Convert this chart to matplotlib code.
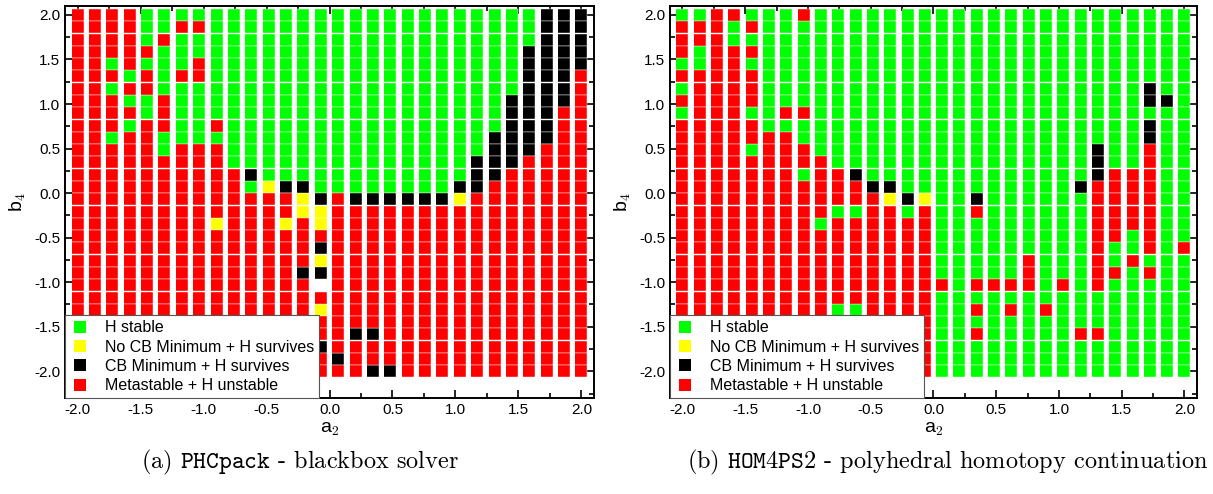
import numpy as np
import matplotlib
matplotlib.use("Agg")
import matplotlib.pyplot as plt
from matplotlib.lines import Line2D
from matplotlib.ticker import MultipleLocator

plt.rcParams['font.family'] = ['Liberation Sans', 'DejaVu Sans']
plt.rcParams['mathtext.fontset'] = 'cm'
plt.rcParams['axes.unicode_minus'] = False

# parameter scan grid (30 x 30)
a2_values = np.linspace(-2.0, 2.0, 30)
b4_values = np.linspace(2.0, -2.0, 30)   # rows listed from top to bottom

# G = H stable, Y = no CB minimum + H survives, K = CB minimum + H survives,
# R = metastable + H unstable, . = no result
phc_grid = [
    "RRRRGGGGGG" "GGGGGGGGG" "GGGGGGGGKKK",
    "RRRRGGRRGG" "GGGGGGGGG" "GGGGGGGGKKK",
    "RRRRGRGGGG" "GGGGGGGGG" "GGGGGGGGKKK",
    "RRRRRGGGGG" "GGGGGGGGG" "GGGGGGGKKKK",
    "RRGRGGGRGG" "GGGGGGGGG" "GGGGGGGKKKK",
    "RRRGRGRRGG" "GGGGGGGGG" "GGGGGGGKKKR",
    "RRGRRGGGGG" "GGGGGGGGG" "GGGGGGGKKKR",
    "RRRGGRGGGG" "GGGGGGGGG" "GGGGGGKKKKR",
    "RRRRGRGGGG" "GGGGGGGGG" "GGGGGGKKKRR",
    "RRRGRRGGRG" "GGGGGGGGG" "GGGGGGKKKRR",
    "RRGRRGGGGG" "GGGGGGGGG" "GGGGGKKKKRR",
    "RRRRRGRRRG" "GGGGGGGGG" "GGGGGKKKRRR",
    "RRRRRRRRRG" "GGGGGGGGG" "GGGGKKKRRRR",
    "RRRRRRRRRR" "KGGGGGGGG" "GGGGKKRRRRR",
    "RRRRRRRRRR" "GYKKGGGGG" "GGGKKRRRRRR",
    "RRRRRRRRRR" "RRRYKRKKK" "KKKYRRRRRRR",
    "RRRRRRRRRR" "RRRYYRRRR" "RRRRRRRRRRR",
    "RRRRRRRRYR" "RRYRYRRRR" "RRRRRRRRRRR",
    "RRRRRRRRRR" "RRRRRRRRR" "RRRRRRRRRRR",
    "RRRRRRRRRR" "RRRRKRRRR" "RRRRRRRRRRR",
    "RRRRRRRRRR" "RRRRYRRRR" "RRRRRRRRRRR",
    "RRRRRRRRRR" "RRRKKRRRR" "RRRRRRRRRRR",
    "RRRRRRRRRR" "RRRR.RRRR" "RRRRRRRRRRR",
    "RRRRRRRRRR" "RRRRRRRRR" "RRRRRRRRRRR",
    "RRRRRRRRRR" "RRRRYRRRR" "RRRRRRRRRRR",
    "RRRRRRRRRR" "RRRRRRRRR" "RRRRRRRRRRR",
    "RRRRRRRRRR" "RRRRRRKKR" "RRRRRRRRRRR",
    "RRRRRRRRRR" "RRRRKRRRR" "RRRRRRRRRRR",
    "RRRRRRRRRR" "RRRRRKRRR" "RRRRRRRRRRR",
    "RRRRRRRRRR" "RRRRRRRKK" "RRRRRRRRRRR",
]

hom_grid = [
    "GGRRGGGRGG" "GGGGGGGGG" "GGGGGGGGGGG",
    "RRRGRGGGGG" "GGGGGGGGG" "GGGGGGGGGGG",
    "RRRGGGGGGG" "GGGGGGGGG" "GGGGGGGGGGG",
    "RGRRRGGGGG" "GGGGGGGGG" "GGGGGGGGGGG",
    "GGRRGGGGGG" "GGGGGGGGG" "GGGGGGGGGGG",
    "RRRRRGGGGG" "GGGGGGGGG" "GGGGGGGGGGG",
    "GRRRRGGGGG" "GGGGGGGGG" "GGGGGGGGKGG",
    "RRRRRGGGGG" "GGGGGGGGG" "GGGGGGGGKKG",
    "GRRRGGRRGG" "GGGGGGGGG" "GGGGGGGGGGG",
    "RRRRRGGGGG" "GGGGGGGGG" "GGGGGGGGKGG",
    "RRRRRRRGGG" "GGGGGGGGG" "GGGGGGGGKGG",
    "RRRRGRRRGG" "GGGGGGGGG" "GGGGGKGGRGG",
    "RRRRRRRRRG" "GGGGGGGGG" "GGGGGKGGRGG",
    "RRRRRRRGRR" "KGGGGGGGG" "GGGGGKRRRGG",
    "RRRRRRRRRR" "RKKGGGGGG" "GGGGKRRRRGG",
    "RRRRRRRRRR" "RRYKYGGKG" "GGGGGRRRRGG",
    "RRRRRRRRRG" "GRRGRGGRG" "GGGGGRRRRGG",
    "RRRRRRRRGR" "RRRRRGGGG" "GGGGGRRRRGG",
    "RRRRRRRRRR" "RRRRRGGGG" "GGGGGRRGRGG",
    "RRRRRRRRRR" "RRRRRGGGG" "GGGGGRGGRGR",
    "RRRRRRRRRR" "RRRRRGGGG" "GRGGGRGRGGG",
    "RRRRRRRRRR" "RRRRRGGGG" "GRGGGRRGRGG",
    "RRRRRRRRRR" "RRRRRRGRR" "RRGRGRGGGGG",
    "RRRRRRRRRR" "RRRRRGGGG" "GGGGGGGGGGG",
    "RRRRRRRRRG" "GRRRRGGRG" "RGRGGGGGGGG",
    "RRRRRRRRRR" "RRRRRGGGG" "GGGGGGGGGGG",
    "RRRRRRRRRR" "RRRRRGGRG" "GGGGRRGGGGG",
    "RRRRRRRRRR" "RRRRRGGGG" "GGGGGGGGGGG",
    "RRRRRRRRRR" "RRRRRGGGG" "GGGGGGGGGGG",
    "RRRRRRRRRR" "RRRRRGGGG" "GGGGGGGGGGG",
]

state_codes = ["G", "Y", "K", "R"]
state_labels = ["H stable", "No CB Minimum + H survives",
                "CB Minimum + H survives", "Metastable + H unstable"]
state_colors = ["#00ff00", "#ffff00", "#000000", "#ff0000"]

captions = [r"(a) $\mathtt{PHCpack}$ - blackbox solver",
            r"(b) $\mathtt{HOM4PS2}$ - polyhedral homotopy continuation"]
caption_x = [0.247, 0.781]

# slightly flattened square for the grid cells
cell_marker = [(-0.5, -0.46), (0.5, -0.46), (0.5, 0.46), (-0.5, 0.46)]


def draw_panel(ax, grid):
    for code, color in zip(state_codes, state_colors):
        xs, ys = [], []
        for row, b4 in zip(grid, b4_values):
            for ch, a2 in zip(row, a2_values):
                if ch == code:
                    xs.append(a2)
                    ys.append(b4)
        ax.scatter(xs, ys, marker=cell_marker, s=76, c=color,
                   edgecolors="white", linewidths=0.3, zorder=2)

    ax.set_xlim(-2.1, 2.1)
    ax.set_ylim(-2.3, 2.1)
    ax.xaxis.set_major_locator(MultipleLocator(0.5))
    ax.xaxis.set_minor_locator(MultipleLocator(0.25))
    ax.yaxis.set_major_locator(MultipleLocator(0.5))
    ax.yaxis.set_minor_locator(MultipleLocator(0.25))
    ax.set_yticks(np.arange(-2.0, 2.01, 0.5))
    ax.tick_params(which="both", direction="in", top=True, right=True,
                   labelsize=11, width=1.2)
    ax.tick_params(which="major", length=6)
    ax.tick_params(which="minor", length=3.5)
    for sp in ax.spines.values():
        sp.set_linewidth(1.4)
    ax.set_xlabel(r"a$_2$", fontsize=14, labelpad=3)
    ax.set_ylabel(r"b$_4$", fontsize=14, labelpad=4)

    handles = [Line2D([], [], marker="s", linestyle="none", markersize=8,
                      markerfacecolor=c, markeredgewidth=0) for c in state_colors]
    leg = ax.legend(handles, state_labels, loc="lower left", fontsize=11.5,
                    frameon=True, fancybox=False, framealpha=1,
                    borderaxespad=0, handletextpad=0.9, labelspacing=0.27,
                    borderpad=0.3, handlelength=1.3)
    leg.get_frame().set_edgecolor("#555555")
    leg.get_frame().set_linewidth(0.8)
    leg.set_zorder(5)


fig = plt.figure(figsize=(12.13, 4.94), dpi=100)
ax1 = fig.add_axes([0.0536, 0.1943, 0.4361, 0.7935])
ax2 = fig.add_axes([0.5523, 0.1943, 0.4345, 0.7935])

for ax, grid in zip([ax1, ax2], [phc_grid, hom_grid]):
    draw_panel(ax, grid)

for x, text in zip(caption_x, captions):
    fig.text(x, 0.063, text, ha="center", va="center", fontsize=17.5,
             family="cmr10")

fig.savefig("out.png", dpi=100)
